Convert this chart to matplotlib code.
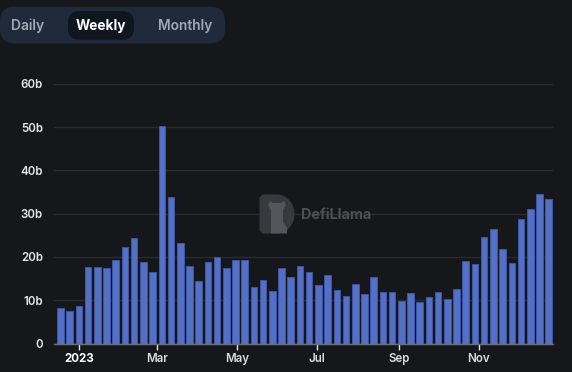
import matplotlib
matplotlib.use("Agg")
import matplotlib.pyplot as plt
import matplotlib.dates as mdates
from matplotlib.patches import FancyBboxPatch, PathPatch
from matplotlib.path import Path
import numpy as np
import datetime as dt

# ---- data ----
start_date = "2022-12-18"
values_b = [8.1, 7.4, 8.7, 17.7, 17.8, 17.5, 19.3, 22.2, 24.3, 18.8,
            16.5, 50.4, 33.8, 23.2, 17.9, 14.5, 18.8, 20.0, 17.4, 19.4,
            19.3, 13.0, 14.7, 12.1, 17.5, 15.3, 17.9, 16.5, 13.5, 15.8,
            12.4, 11.0, 13.8, 11.4, 15.4, 11.8, 12.0, 9.8, 11.7, 9.7,
            10.8, 11.8, 10.2, 12.6, 19.1, 18.4, 24.7, 26.4, 21.8, 18.7,
            28.9, 31.2, 34.6, 33.4]
ytick_vals = [0, 10, 20, 30, 40, 50, 60]
ytick_labels = ["0", "10b", "20b", "30b", "40b", "50b", "60b"]
xtick_dates = ["2023-01-01", "2023-03-01", "2023-05-01", "2023-07-01", "2023-09-01", "2023-11-01"]
xtick_labels = ["2023", "Mar", "May", "Jul", "Sep", "Nov"]
tabs = ["Daily", "Weekly", "Monthly"]

W, H = 572, 372
BG = "#16171b"
fig = plt.figure(figsize=(W / 100, H / 100), dpi=100, facecolor=BG)

def fx(x):
    return x / W

def fy(y):
    return 1 - y / H

ax_left, ax_right, ax_top, ax_bottom = 54, 553, 84, 343.5
ax = fig.add_axes([fx(ax_left), fy(ax_bottom), (ax_right - ax_left) / W, (ax_bottom - ax_top) / H])
ax.set_facecolor(BG)

d0 = np.datetime64(start_date)
dates = [d0 + np.timedelta64(7 * i, "D") for i in range(len(values_b))]
xnum = mdates.date2num(dates)
ax.bar(xnum, values_b, width=5.0, color="#5470c6", edgecolor="#3e55a0", linewidth=0.7, zorder=3)

ax.set_ylim(0, 60)
ax.set_xlim(xnum[0] - 4.95, xnum[-1] + 3.3)
ax.set_yticks(ytick_vals)
ax.set_yticklabels(ytick_labels)
ax.grid(axis="y", color="#2a2b31", linewidth=1.0, zorder=0)
ax.grid(axis="x", visible=False)
for s in ["top", "right", "left"]:
    ax.spines[s].set_visible(False)
ax.spines["bottom"].set_color("#6e7079")
ax.spines["bottom"].set_linewidth(1.0)
ax.spines["bottom"].set_zorder(4)
ax.tick_params(axis="y", length=0, pad=8, labelsize=8.3, labelcolor="#e6e6e6")
for lbl in ax.get_yticklabels():
    lbl.set_fontweight("semibold")
    lbl.set_family("Inter")

xt = mdates.date2num([np.datetime64(d) for d in xtick_dates])
ax.set_xticks(xt)
ax.set_xticklabels(xtick_labels)
ax.tick_params(axis="x", length=4, width=1, color="#e6e6e6", pad=3, labelsize=8.3, labelcolor="#dcdcdc")
for i, lbl in enumerate(ax.get_xticklabels()):
    lbl.set_family("Inter")
    if i == 0:
        lbl.set_fontweight("bold")
        lbl.set_color("#ffffff")
    else:
        lbl.set_fontweight("semibold")

# ---- tabs ----
cont = FancyBboxPatch((fx(0), fy(43.3)), fx(225), (43.3 - 6.7) / H,
                      boxstyle="round,pad=0,rounding_size=0.025",
                      transform=fig.transFigure, facecolor="#1f2a3b", edgecolor="none",
                      mutation_aspect=W / H)
fig.add_artist(cont)
pill = FancyBboxPatch((fx(68), fy(39.7)), fx(134 - 68), (39.7 - 11) / H,
                      boxstyle="round,pad=0,rounding_size=0.02",
                      transform=fig.transFigure, facecolor="#0f1620", edgecolor="none",
                      mutation_aspect=W / H)
fig.add_artist(pill)
tab_x = [27.5, 101, 185]
for t, x in zip(tabs, tab_x):
    sel = t == "Weekly"
    fig.text(fx(x), fy(26), t, ha="center", va="center", fontsize=9.9,
             family="Inter", fontweight="semibold" if not sel else "bold",
             color="#ffffff" if sel else "#a3a9b3")

# ---- watermark ----
x0, x1, y0, y1 = 259.5, 294.5, 194.5, 233.5
r = (y1 - y0) / 2
xm = x1 - r * 0.9
theta = np.linspace(np.pi / 2, -np.pi / 2, 40)
pts = [(x0 + 3, y0), (xm, y0)]
pts += [(xm + r * 0.9 * np.cos(t), (y0 + y1) / 2 - r * np.sin(t)) for t in theta]
pts += [(x0 + 3, y1), (x0, y1 - 3), (x0, y0 + 3), (x0 + 3, y0)]
pts_fig = [(fx(a), fy(b)) for a, b in pts]
path = Path(pts_fig, closed=True)
fig.add_artist(PathPatch(path, transform=fig.transFigure, facecolor="#38393e", edgecolor="none", zorder=5))
# llama silhouette (simple)
llama = [(271, 233.5), (271, 210), (268, 205), (270, 201), (273, 203), (281, 203), (284, 201),
         (286, 205), (283, 210), (283, 222), (287, 228), (287, 233.5)]
fig.add_artist(PathPatch(Path([(fx(a), fy(b)) for a, b in llama] + [(fx(271), fy(233.5))], closed=True),
                         transform=fig.transFigure, facecolor="#55565b", edgecolor="none", zorder=6))
fig.text(fx(301.5), fy(214.5), "DefiLlama", ha="left", va="center", fontsize=10.3,
         family="Inter", fontweight="bold", color="#4f5055", zorder=6)

fig.savefig("out.png", dpi=100, facecolor=BG)
